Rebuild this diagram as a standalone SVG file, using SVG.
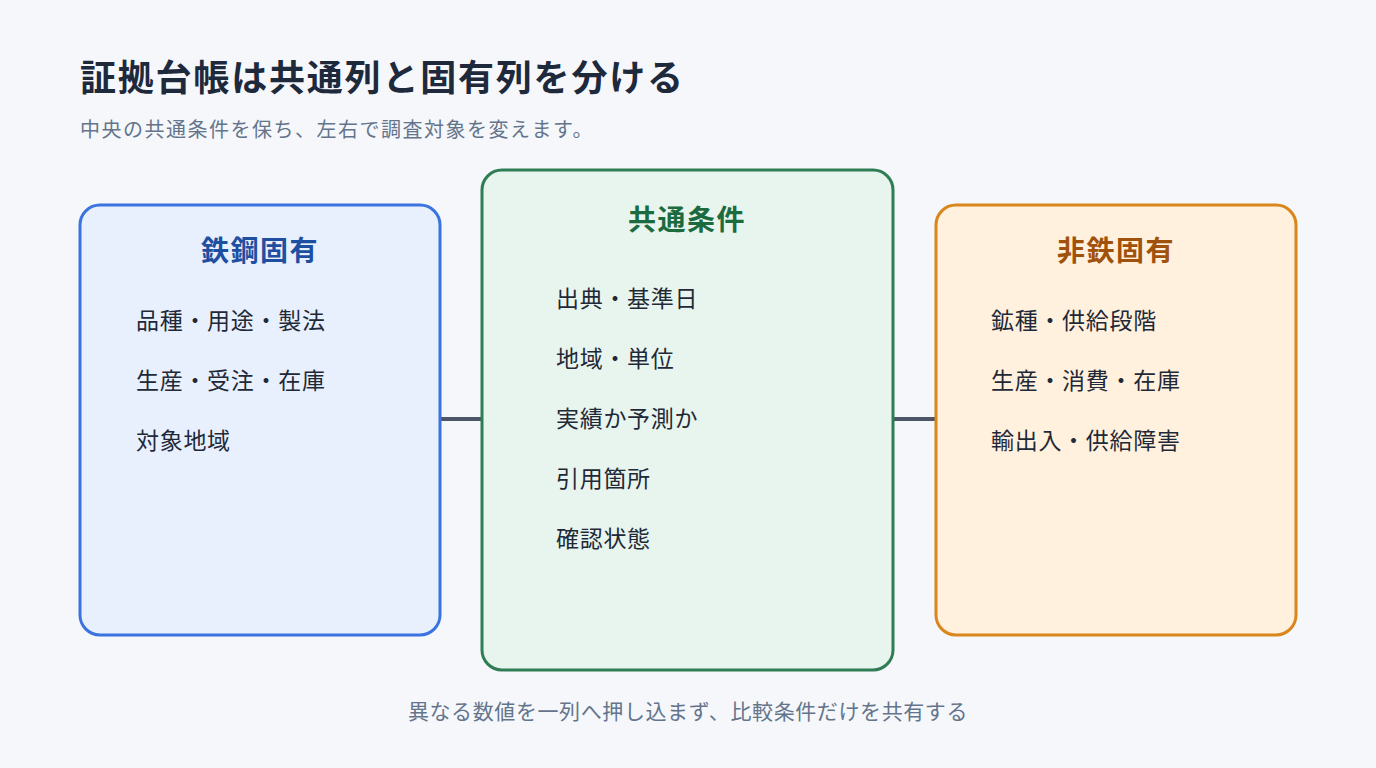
<svg xmlns="http://www.w3.org/2000/svg" width="1376" height="768" viewBox="0 0 1376 768">
<style>
text{font-family:"Noto Sans CJK JP","Noto Sans",sans-serif}
.t{font-size:36px;font-weight:700;fill:#1e293b;letter-spacing:1.8px}
.s{font-size:20px;fill:#64748b;letter-spacing:1.5px}
.h{font-size:28px;font-weight:700;text-anchor:middle;letter-spacing:1.5px}
.i{font-size:23px;fill:#1f2937;letter-spacing:0.7px}
.f{font-size:21px;fill:#64748b;text-anchor:middle;letter-spacing:0.6px}
.c{stroke:#4b5563;stroke-width:4}
</style>
<rect width="1376" height="768" fill="#f5f7fb"/>
<text class="t" x="80" y="91">証拠台帳は共通列と固有列を分ける</text>
<text class="s" x="80" y="137">中央の共通条件を保ち、左右で調査対象を変えます。</text>
<g id="connectors">
<line class="c" x1="440" y1="419" x2="482" y2="419"/>
<line class="c" x1="893" y1="419" x2="936" y2="419"/>
</g>
<g id="steel">
<rect x="80" y="205" width="360" height="430" rx="20" fill="#e8f0fe" stroke="#3b74e0" stroke-width="3"/>
<text class="h" x="260" y="261" fill="#1e4fa0">鉄鋼固有</text>
<text class="i" x="136" y="329">品種・用途・製法</text>
<text class="i" x="136" y="389">生産・受注・在庫</text>
<text class="i" x="136" y="449">対象地域</text>
</g>
<g id="common">
<rect x="482" y="170" width="411" height="500" rx="20" fill="#e8f5ee" stroke="#2e7d55" stroke-width="3"/>
<text class="h" x="687" y="230" fill="#1b6b3e">共通条件</text>
<text class="i" x="556" y="307">出典・基準日</text>
<text class="i" x="556" y="367">地域・単位</text>
<text class="i" x="556" y="427">実績か予測か</text>
<text class="i" x="556" y="487">引用箇所</text>
<text class="i" x="556" y="547">確認状態</text>
</g>
<g id="nonferrous">
<rect x="936" y="205" width="360" height="430" rx="20" fill="#fff1dd" stroke="#d9861c" stroke-width="3"/>
<text class="h" x="1116" y="261" fill="#a0520c">非鉄固有</text>
<text class="i" x="991" y="329">鉱種・供給段階</text>
<text class="i" x="991" y="389">生産・消費・在庫</text>
<text class="i" x="991" y="449">輸出入・供給障害</text>
</g>
<text class="f" x="688" y="719">異なる数値を一列へ押し込まず、比較条件だけを共有する</text>
</svg>
